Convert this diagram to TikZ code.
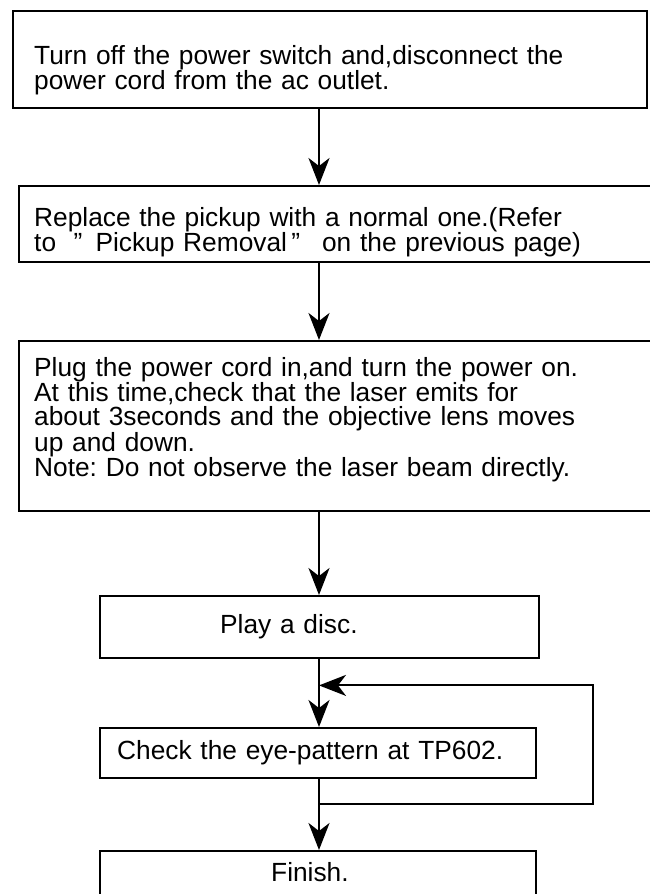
\documentclass[tikz,border=0pt]{standalone}
\usepackage{fontspec}
\setmainfont{Liberation Sans}
\usetikzlibrary{arrows.meta,positioning,calc}
\frenchspacing

\tikzset{
  stepbox/.style={draw,rectangle,line width=2.4pt,inner ysep=0pt,align=left,anchor=north west,
    font=\fontsize{26.3pt}{24pt}\selectfont},
  flow/.style={line width=2.1pt,-{Stealth[length=27pt,width=21pt,inset=8pt]}}
}

\begin{document}
\begin{tikzpicture}[x=1pt,y=-1pt]
  \useasboundingbox (0,0) rectangle (650,894);
  \coordinate (spine) at (319,0);
  \coordinate (ret) at (593,0);

  \node[stepbox,inner xsep=21pt,text width=592pt,text height=53pt,text depth=44pt] (off) at (12,10)
    {Turn off the power switch and,disconnect the\\power cord from the ac outlet.};
  \node[stepbox,inner xsep=15pt,text width=652pt,text height=40pt,text depth=36pt] (repl) at (18,185)
    {Replace the pickup with a normal one.(Refer\\to\ \ ”\ \,Pickup Removal\,”\ \ \,on the previous page)};
  \node[stepbox,inner xsep=15pt,text width=652pt,text height=35pt,text depth=135pt] (plug) at (18,340)
    {Plug the power cord in,and turn the power on.\\At this time,check that the laser emits for\\about 3seconds and the objective lens moves\\up and down.\\Note: Do not observe the laser beam directly.};
  \node[stepbox,inner xsep=120pt,text width=199pt,text height=37pt,text depth=25pt] (play) at (99,595)
    {Play a disc.};
  \node[stepbox,inner xsep=17pt,text width=402pt,text height=31pt,text depth=19pt] (check) at (99,727)
    {Check the eye-pattern at TP602.};
  \node[stepbox,inner xsep=171pt,text width=94pt,text height=30pt,text depth=60pt] (finish) at (99,850)
    {Finish.};

  % main line
  \draw[flow] (off.south -| spine) -- (repl.north -| spine);
  \draw[flow] (repl.south -| spine) -- (plug.north -| spine);
  \draw[flow] (plug.south -| spine) -- (play.north -| spine);
  \draw[flow] (play.south -| spine) -- (check.north -| spine);
  \draw[flow] (check.south -| spine) -- (finish.north -| spine);

  % loop back
  \coordinate (split) at ($(check.south -| spine)+(0,25)$);
  \coordinate (join) at ($(play.south -| spine)+(0,26)$);
  \draw[flow] (split) -| (join -| ret) -- (join);
\end{tikzpicture}
\end{document}
